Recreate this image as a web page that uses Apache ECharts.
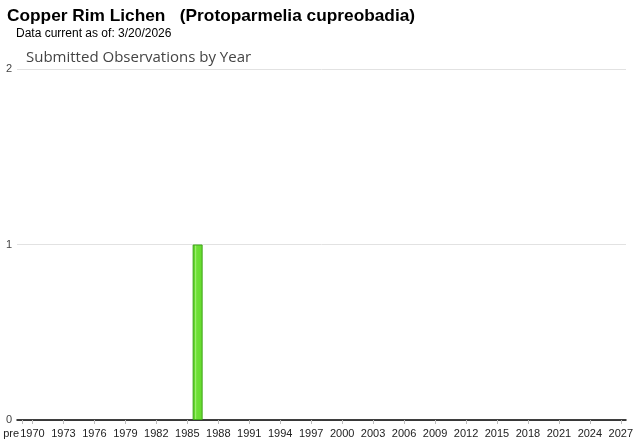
<!DOCTYPE html>
<html>
<head>
<meta charset="utf-8">
<script src="https://cdn.jsdelivr.net/npm/echarts@6/dist/echarts.min.js"></script>
<style>html,body{margin:0;padding:0;background:#fff}#c{width:640px;height:442px}</style>
</head>
<body>
<div id="c"></div>
<script>
var years = ['pre'];
for (var y = 1970; y <= 2027; y++) years.push(String(y));
var observedYears = ['1986'];
var observedCounts = [1];
var yTicks = [0, 1, 2];

var values = years.map(function (c) {
  var i = observedYears.indexOf(c);
  return i >= 0 ? observedCounts[i] : '-';
});

function showIdx(i) { return i === 0 || (i - 1) % 3 === 0; }

var chart = echarts.init(document.getElementById('c'), null, {renderer: 'canvas'});
chart.setOption({
  animation: false,
  title: [
    {text: 'Copper Rim Lichen   (Protoparmelia cupreobadia)', left: 7, top: 8, padding: 0,
     textStyle: {fontFamily: 'Liberation Sans, Arial', fontWeight: 'bold', fontSize: 17.3, color: '#000'}},
    {text: 'Data current as of: 3/20/2026', left: 16, top: 28, padding: 0,
     textStyle: {fontFamily: 'Liberation Sans, Arial', fontWeight: 'normal', fontSize: 12, color: '#000'}},
    {text: 'Submitted Observations by Year', left: 26, top: 50, padding: 0,
     textStyle: {fontFamily: 'Open Sans', fontWeight: 'normal', fontSize: 15, color: '#444'}}
  ],
  grid: {left: 17, right: 14, top: 69, bottom: 22, containLabel: false},
  xAxis: {
    type: 'category',
    data: years,
    axisLine: {lineStyle: {color: '#000', width: 1.5}},
    axisTick: {show: true, alignWithLabel: true, length: 4, interval: function (i) { return showIdx(i); }, lineStyle: {color: '#bbb'}},
    axisLabel: {
      interval: function (i) { return showIdx(i); },
      margin: 8,
      fontFamily: 'Liberation Sans, Arial', fontSize: 11, color: '#222',
      formatter: function (v, i) { return i === 0 ? '{p|' + v + '}' : v; },
      rich: {p: {padding: [0, 22, 0, 0], fontFamily: 'Liberation Sans, Arial', fontSize: 11, color: '#222'}}
    }
  },
  yAxis: {
    type: 'value', min: yTicks[0], max: yTicks[yTicks.length - 1], interval: 1,
    axisLine: {show: false}, axisTick: {show: false},
    axisLabel: {margin: 5, fontFamily: 'Liberation Sans, Arial', fontSize: 11, color: '#444'},
    splitLine: {lineStyle: {color: '#e2e2e2'}}
  },
  series: [{
    type: 'bar', data: values, barWidth: 10,
    itemStyle: {
      color: new echarts.graphic.LinearGradient(0, 0, 1, 0, [
        {offset: 0, color: '#62d62a'}, {offset: 0.22, color: '#62d62a'},
        {offset: 0.3, color: '#a6f27a'}, {offset: 0.4, color: '#6ee036'},
        {offset: 1, color: '#66da2e'}]),
      borderColor: '#3fa51a', borderWidth: 1
    }
  }]
});
</script>
</body>
</html>
